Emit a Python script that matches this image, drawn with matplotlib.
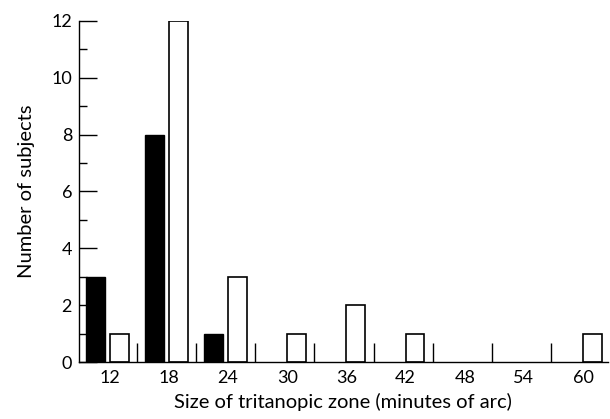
import numpy as np
import matplotlib
matplotlib.use("Agg")
import matplotlib.pyplot as plt

# Данные: размер тританопической зоны (угл. минуты) и число испытуемых
sizes = [12, 18, 24, 30, 36, 42, 48, 54, 60]
group_black = [3, 8, 1, 0, 0, 0, 0, 0, 0]
group_white = [1, 12, 3, 1, 2, 1, 0, 0, 1]

plt.rcParams['font.family'] = ['Lato', 'DejaVu Sans']

fig = plt.figure(figsize=(6.10, 4.19), dpi=100)
ax = fig.add_axes([0.1295, 0.136, 0.867, 0.814])

x = np.arange(len(sizes))
w = 0.32
hb = np.array(group_black)
hw = np.array(group_white)
# нулевые столбцы не рисуем
ax.bar(x[hb > 0] - 0.40, hb[hb > 0], width=w, align='edge', color='black',
       edgecolor='black', linewidth=1.0)
ax.bar(x[hw > 0], hw[hw > 0], width=w, align='edge', color='white',
       edgecolor='black', linewidth=1.2)

ax.set_xlim(-0.52, 8.42)
ax.set_ylim(0, 12)

# Оси
for s in ['top', 'right']:
    ax.spines[s].set_visible(False)
ax.spines['left'].set_linewidth(1.0)
ax.spines['bottom'].set_linewidth(1.0)

ax.set_xticks(x)
ax.set_xticklabels([str(s) for s in sizes])
ax.set_xticks(x[:-1] + 0.46, minor=True)
ax.tick_params(axis='x', which='major', length=0, pad=6, labelsize=13)
ax.tick_params(axis='x', which='minor', direction='in', length=14, width=1.0)

ax.set_yticks(np.arange(0, 13, 2))
ax.set_yticks(np.arange(1, 12, 2), minor=True)
ax.tick_params(axis='y', which='major', direction='in', length=13, width=1.0,
               labelsize=13, pad=5)
ax.tick_params(axis='y', which='minor', direction='in', length=6, width=1.0)

ax.set_xlabel("Size of tritanopic zone (minutes of arc)", fontsize=14.5, labelpad=5)
ax.set_ylabel("Number of subjects", fontsize=14.5, labelpad=12)

fig.savefig("out.png", dpi=100)
